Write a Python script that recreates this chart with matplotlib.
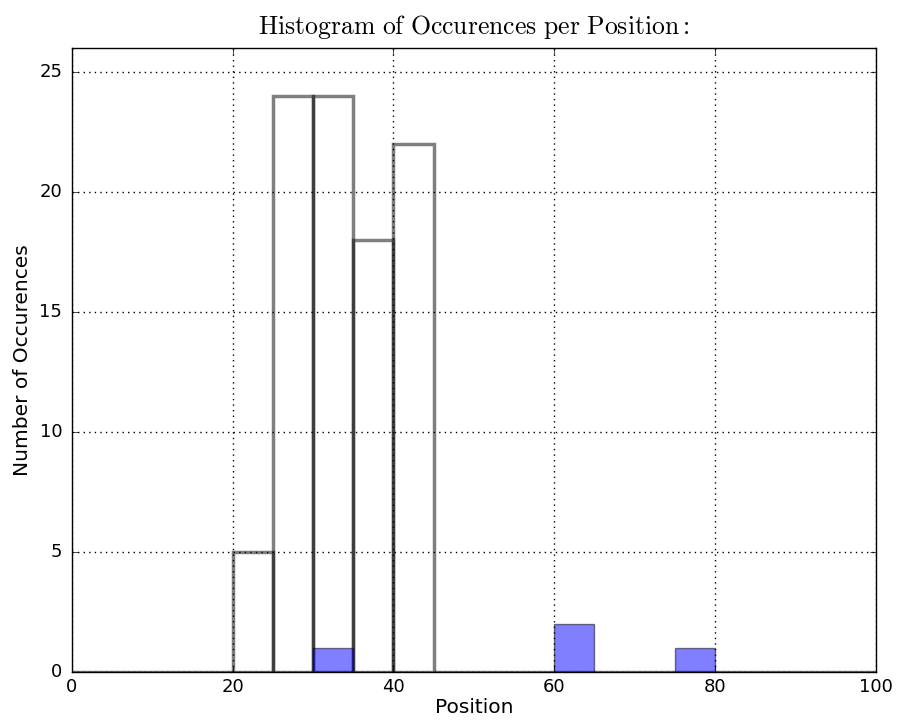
import numpy as np
import matplotlib.pyplot as plt
import matplotlib as mpl

plt.style.use('classic')
mpl.rcParams['mathtext.fontset'] = 'cm'

# bin edges every 5 positions
edges = np.arange(0, 105, 5)
bin_left = edges[:-1]

# occurrences per bin
all_counts = [0, 0, 0, 0, 5, 24, 24, 18, 22, 0, 0, 0, 0, 0, 0, 0, 0, 0, 0, 0]
sel_counts = [0, 0, 0, 0, 0, 0, 1, 0, 0, 0, 0, 0, 2, 0, 0, 1, 0, 0, 0, 0]

fig = plt.figure(figsize=(8.99, 7.24), dpi=100, facecolor='white')
ax = fig.add_axes([0.080, 0.0718, 0.894, 0.862])

ax.hist(bin_left, bins=edges, weights=all_counts, facecolor='none',
        edgecolor='black', linewidth=2.5, alpha=0.5)
ax.hist(bin_left, bins=edges, weights=sel_counts, facecolor='blue',
        edgecolor='black', linewidth=1, alpha=0.5)

ax.set_xlim(0, 100)
ax.set_ylim(0, 26)
ax.set_xticks([0, 20, 40, 60, 80, 100])
ax.set_yticks([0, 5, 10, 15, 20, 25])
ax.grid(True, color='black', linestyle=':', linewidth=1)
ax.tick_params(axis='both', labelsize=13)
ax.tick_params(axis='y', pad=7)

ax.set_xlabel('Position', fontsize=14.5, labelpad=2)
ax.set_ylabel('Number of Occurences', fontsize=14.5, labelpad=5)
ax.set_title(r'$\mathrm{Histogram\ of\ Occurences\ per\ Position:}$',
             fontsize=18.5, y=1.0, pad=10)

fig.savefig('out.png', dpi=100, facecolor='white')
